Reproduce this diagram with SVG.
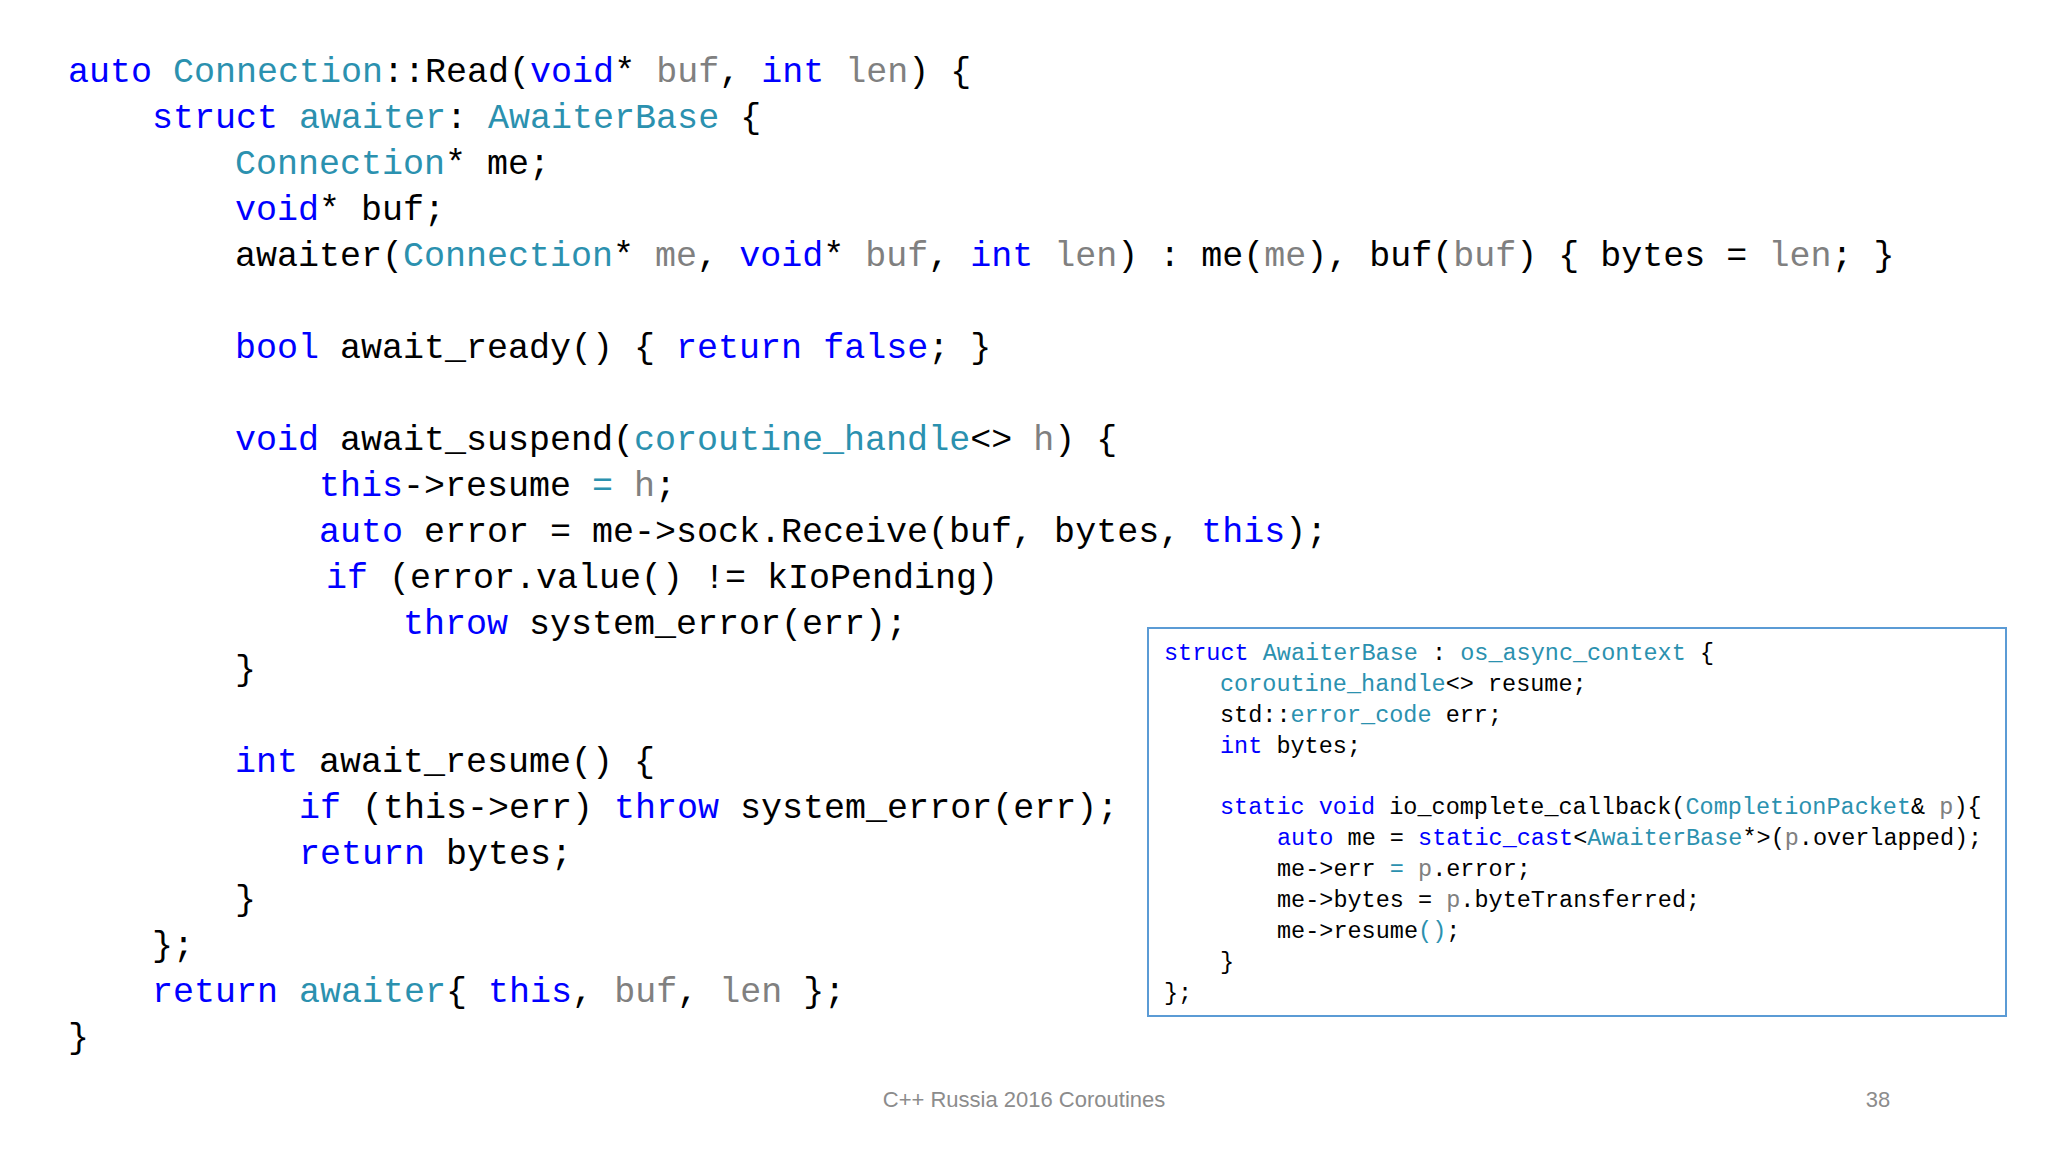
<svg xmlns="http://www.w3.org/2000/svg" width="2048" height="1152" viewBox="0 0 2048 1152">
<style>
.c{font-family:"Liberation Mono","DejaVu Sans Mono",monospace;font-size:35px;fill:#000}
.b{font-family:"Liberation Mono","DejaVu Sans Mono",monospace;font-size:23.5px;fill:#000}
.k{fill:#0000FF}.t{fill:#2B91AF}.p{fill:#808080}
.f{font-family:"Liberation Sans",Arial,sans-serif;font-size:22px;fill:#8c8c8c}
</style>
<rect width="2048" height="1152" fill="#fff"/>
<g id="main-code" xml:space="preserve">
<text class="c" x="68" y="82"><tspan class="k">auto</tspan> <tspan class="t">Connection</tspan>::Read(<tspan class="k">void</tspan>* <tspan class="p">buf</tspan>, <tspan class="k">int</tspan> <tspan class="p">len</tspan>) {</text>
<text class="c" x="152" y="128"><tspan class="k">struct</tspan> <tspan class="t">awaiter</tspan>: <tspan class="t">AwaiterBase</tspan> {</text>
<text class="c" x="235" y="174"><tspan class="t">Connection</tspan>* me;</text>
<text class="c" x="235" y="220"><tspan class="k">void</tspan>* buf;</text>
<text class="c" x="235" y="266">awaiter(<tspan class="t">Connection</tspan>* <tspan class="p">me</tspan>, <tspan class="k">void</tspan>* <tspan class="p">buf</tspan>, <tspan class="k">int</tspan> <tspan class="p">len</tspan>) : me(<tspan class="p">me</tspan>), buf(<tspan class="p">buf</tspan>) { bytes = <tspan class="p">len</tspan>; }</text>
<text class="c" x="235" y="358"><tspan class="k">bool</tspan> await_ready() { <tspan class="k">return</tspan> <tspan class="k">false</tspan>; }</text>
<text class="c" x="235" y="450"><tspan class="k">void</tspan> await_suspend(<tspan class="t">coroutine_handle</tspan>&lt;&gt; <tspan class="p">h</tspan>) {</text>
<text class="c" x="319" y="496"><tspan class="k">this</tspan>-&gt;resume <tspan class="t">=</tspan> <tspan class="p">h</tspan>;</text>
<text class="c" x="319" y="542"><tspan class="k">auto</tspan> error = me-&gt;sock.Receive(buf, bytes, <tspan class="k">this</tspan>);</text>
<text class="c" x="326" y="588"><tspan class="k">if</tspan> (error.value() != kIoPending)</text>
<text class="c" x="403" y="634"><tspan class="k">throw</tspan> system_error(err);</text>
<text class="c" x="235" y="680">}</text>
<text class="c" x="235" y="772"><tspan class="k">int</tspan> await_resume() {</text>
<text class="c" x="299" y="818"><tspan class="k">if</tspan> (this-&gt;err) <tspan class="k">throw</tspan> system_error(err);</text>
<text class="c" x="299" y="864"><tspan class="k">return</tspan> bytes;</text>
<text class="c" x="235" y="910">}</text>
<text class="c" x="152" y="956">};</text>
<text class="c" x="152" y="1002"><tspan class="k">return</tspan> <tspan class="t">awaiter</tspan>{ <tspan class="k">this</tspan>, <tspan class="p">buf</tspan>, <tspan class="p">len</tspan> };</text>
<text class="c" x="68" y="1048">}</text>
</g>
<g id="awaiterbase-box" xml:space="preserve">
<rect x="1148" y="628" width="858" height="388" fill="#fff" stroke="#5B9BD5" stroke-width="2"/>
<text class="b" x="1164" y="660"><tspan class="k">struct</tspan> <tspan class="t">AwaiterBase</tspan> : <tspan class="t">os_async_context</tspan> {</text>
<text class="b" x="1220" y="691"><tspan class="t">coroutine_handle</tspan>&lt;&gt; resume;</text>
<text class="b" x="1220" y="722">std::<tspan class="t">error_code</tspan> err;</text>
<text class="b" x="1220" y="753"><tspan class="k">int</tspan> bytes;</text>
<text class="b" x="1220" y="814"><tspan class="k">static</tspan> <tspan class="k">void</tspan> io_complete_callback(<tspan class="t">CompletionPacket</tspan>&amp; <tspan class="p">p</tspan>){</text>
<text class="b" x="1277" y="845"><tspan class="k">auto</tspan> me = <tspan class="k">static_cast</tspan>&lt;<tspan class="t">AwaiterBase</tspan>*&gt;(<tspan class="p">p</tspan>.overlapped);</text>
<text class="b" x="1277" y="876">me-&gt;err <tspan class="t">=</tspan> <tspan class="p">p</tspan>.error;</text>
<text class="b" x="1277" y="907">me-&gt;bytes = <tspan class="p">p</tspan>.byteTransferred;</text>
<text class="b" x="1277" y="938">me-&gt;resume<tspan class="t">()</tspan>;</text>
<text class="b" x="1220" y="969">}</text>
<text class="b" x="1164" y="1000">};</text>
</g>
<g id="footer">
<text class="f" x="1024" y="1107" text-anchor="middle">C++ Russia 2016 Coroutines</text>
<text class="f" x="1878" y="1107" text-anchor="middle">38</text>
</g>
</svg>
